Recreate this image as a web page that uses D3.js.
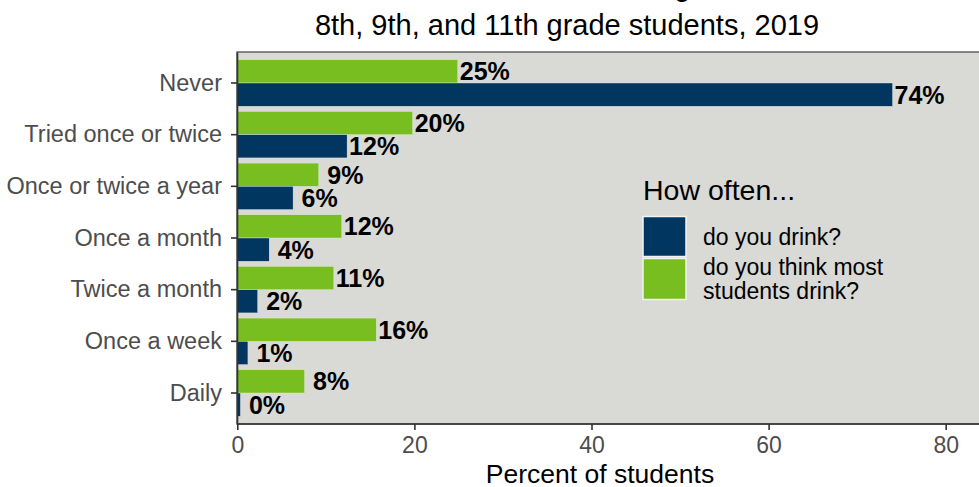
<!DOCTYPE html>
<html>
<head>
<meta charset="utf-8">
<script src="https://cdn.jsdelivr.net/npm/d3@7"></script>
<style>
  body { margin: 0; background: #fff; }
  text { font-family: "Liberation Sans", Arial, sans-serif; }
</style>
</head>
<body>
<div id="chart"></div>
<script>
// categories top to bottom
var categories = ["Never", "Tried once or twice", "Once or twice a year",
  "Once a month", "Twice a month", "Once a week", "Daily"];
// how often do you drink?
var drinkValues = [74.0, 12.4, 6.3, 3.6, 2.3, 1.2, 0.35];
// how often do you think most students drink?
var thinkValues = [24.9, 19.8, 9.2, 11.8, 10.9, 15.7, 7.6];
var xTicks = [0, 20, 40, 60, 80];
var seriesNames = ["do you drink?", "do you think most students drink?"];

var width = 979, height = 487;
var navy = "#003660", green = "#78BE20", panelBg = "#D9D9D6";

var svg = d3.select("#chart")
  .append("svg")
    .attr("width", width)
    .attr("height", height);

var panel = {left: 237, top: 52, right: 990, bottom: 424};

var x = d3.scaleLinear()
  .domain([0, 80])
  .range([237.3, 945.7]);

var y = d3.scaleBand()
  .domain(categories)
  .range([panel.top, panel.bottom])
  .paddingInner(0)
  .paddingOuter(0.1);

// panel background
svg.append("rect")
  .attr("x", panel.left)
  .attr("y", panel.top)
  .attr("width", panel.right - panel.left)
  .attr("height", panel.bottom - panel.top)
  .attr("fill", panelBg)
  .attr("stroke", "#4d4d4d")
  .attr("stroke-width", 1.3);

var barH = y.bandwidth() * 0.45;

// green bars (perceived) on top, navy (actual) below
svg.selectAll(".think")
  .data(thinkValues)
  .enter()
  .append("rect")
    .attr("x", x(0))
    .attr("y", function(d, i) { return y(categories[i]) + y.bandwidth() / 2 - barH; })
    .attr("width", function(d) { return x(d) - x(0); })
    .attr("height", barH)
    .attr("fill", green)
    .attr("stroke", "#e8ebe4")
    .attr("stroke-width", 0.4);

svg.selectAll(".drink")
  .data(drinkValues)
  .enter()
  .append("rect")
    .attr("x", x(0))
    .attr("y", function(d, i) { return y(categories[i]) + y.bandwidth() / 2; })
    .attr("width", function(d) { return x(d) - x(0); })
    .attr("height", barH)
    .attr("fill", navy)
    .attr("stroke", "#e8ebe4")
    .attr("stroke-width", 0.4);

// value labels
function labelX(d) {
  var txt = Math.round(d) + "%";
  return x(d) + (txt.length < 3 ? 8.5 : 2);
}

function addLabels(vals, offset) {
  svg.selectAll(null)
    .data(vals)
    .enter()
    .append("text")
      .attr("x", labelX)
      .attr("y", function(d, i) { return y(categories[i]) + y.bandwidth() / 2 + offset * barH / 2; })
      .attr("dy", "0.36em")
      .style("font-size", "25px")
      .style("font-weight", "bold")
      .attr("fill", "#000")
      .text(function(d) { return Math.round(d) + "%"; });
}
addLabels(thinkValues, -1);
addLabels(drinkValues, 1);

// axes
var xAxis = svg.append("g")
  .attr("transform", "translate(0," + panel.bottom + ")")
  .call(d3.axisBottom(x).tickValues(xTicks).tickSize(6).tickPadding(7).tickSizeOuter(0));
xAxis.select(".domain").attr("stroke", "#333").attr("stroke-width", 1.6)
  .attr("d", "M" + panel.left + ",0H" + panel.right);
xAxis.selectAll(".tick line").attr("stroke", "#333").attr("stroke-width", 1.6);
xAxis.selectAll(".tick text")
  .attr("fill", "#4d4d4d")
  .style("font-size", "23px")
  .style("font-family", "Liberation Sans, Arial, sans-serif");

var yAxis = svg.append("g")
  .attr("transform", "translate(" + panel.left + ",0)")
  .call(d3.axisLeft(y).tickSize(6).tickPadding(9).tickSizeOuter(0));
yAxis.select(".domain").attr("stroke", "#333").attr("stroke-width", 1.6);
yAxis.selectAll(".tick line").attr("stroke", "#333").attr("stroke-width", 1.6);
yAxis.selectAll(".tick text")
  .attr("fill", "#4d4d4d")
  .style("font-size", "23.5px")
  .style("font-family", "Liberation Sans, Arial, sans-serif");

// titles
svg.append("text")
  .attr("x", 567)
  .attr("y", -4)
  .style("text-anchor", "middle")
  .style("font-size", "29px")
  .text("Alcohol use among");

svg.append("text")
  .attr("x", 567)
  .attr("y", 35)
  .style("text-anchor", "middle")
  .style("font-size", "29px")
  .attr("fill", "#000")
  .text("8th, 9th, and 11th grade students, 2019");

svg.append("text")
  .attr("x", 600)
  .attr("y", 483)
  .style("text-anchor", "middle")
  .style("font-size", "26.5px")
  .attr("fill", "#000")
  .text("Percent of students");

// legend
var legend = svg.append("g");
legend.append("text")
  .attr("x", 643)
  .attr("y", 200)
  .style("font-size", "28.5px")
  .text("How often...");

legend.append("rect")
  .attr("x", 643).attr("y", 216.5)
  .attr("width", 43).attr("height", 40)
  .attr("fill", navy).attr("stroke", "#f2f2f2").attr("stroke-width", 1.5);
legend.append("rect")
  .attr("x", 643).attr("y", 258.5)
  .attr("width", 43).attr("height", 41)
  .attr("fill", green).attr("stroke", "#f2f2f2").attr("stroke-width", 1.5);

legend.append("text")
  .attr("x", 703).attr("y", 245)
  .style("font-size", "23px")
  .text(seriesNames[0]);

var lab2 = legend.append("text")
  .attr("x", 703).attr("y", 274.5)
  .style("font-size", "23px");
lab2.append("tspan").attr("x", 703).text("do you think most");
lab2.append("tspan").attr("x", 703).attr("dy", 24).text("students drink?");
</script>
</body>
</html>
